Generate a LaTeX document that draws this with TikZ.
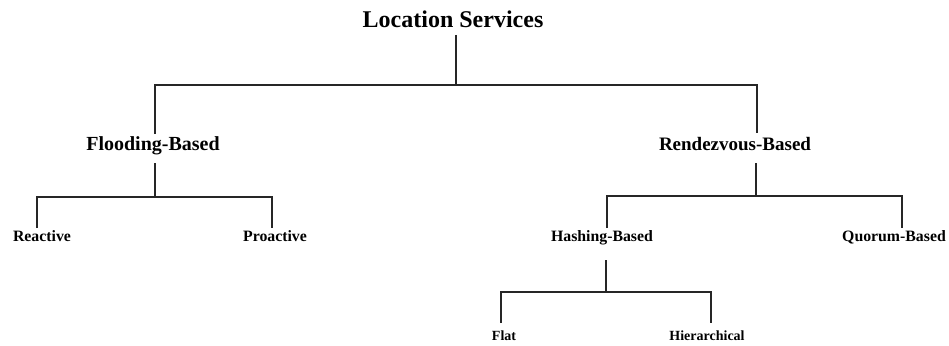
\documentclass[tikz,border=0pt]{standalone}
\usepackage{fontspec}
\setmainfont{Liberation Serif}
\begin{document}
\begin{tikzpicture}[x=1pt,y=-1pt,
  lbl/.style={anchor=base,inner sep=0pt,font=\bfseries},
  conn/.style={draw=black!85,line width=1.2pt}]
\useasboundingbox (0,0) rectangle (949,345);
% nodes
\node[lbl,font=\bfseries\fontsize{24}{28}\selectfont] (ls) at (453,28) {Location Services};
\node[lbl,font=\bfseries\fontsize{20}{24}\selectfont] (fb) at (153,150) {Flooding-Based};
\node[lbl,font=\bfseries\fontsize{19}{23}\selectfont] (rb) at (735,150) {Rendezvous-Based};
\node[lbl,font=\bfseries\fontsize{15.8}{19}\selectfont] (re) at (42,241) {Reactive};
\node[lbl,font=\bfseries\fontsize{15.8}{19}\selectfont] (pr) at (275,241) {Proactive};
\node[lbl,font=\bfseries\fontsize{15.8}{19}\selectfont] (hb) at (602,241) {Hashing-Based};
\node[lbl,font=\bfseries\fontsize{15.8}{19}\selectfont] (qb) at (894,241) {Quorum-Based};
\node[lbl,font=\bfseries\fontsize{14}{17}\selectfont] (fl) at (504,340) {Flat};
\node[lbl,font=\bfseries\fontsize{14}{17}\selectfont] (hi) at (707,340) {Hierarchical};
% connector end points
\coordinate (ls-s) at (456,35);
\coordinate (j0) at (456,85);
\coordinate (fb-n) at (155,134);
\coordinate (rb-n) at (757,133);
\coordinate (fb-s) at (155,163);
\coordinate (j1) at (155,197);
\coordinate (re-n) at (37,228);
\coordinate (pr-n) at (272,228);
\coordinate (rb-s) at (756,163);
\coordinate (j2) at (756,196);
\coordinate (hb-n) at (607,228);
\coordinate (qb-n) at (902,228);
\coordinate (hb-s) at (606,260);
\coordinate (j3) at (606,292);
\coordinate (fl-n) at (501,323);
\coordinate (hi-n) at (711,323);
% connectors
\draw[conn] (ls-s) -- (j0);
\draw[conn] (fb-n) |- (j0) -| (rb-n);
\draw[conn] (fb-s) -- (j1);
\draw[conn] (re-n) |- (j1) -| (pr-n);
\draw[conn] (rb-s) -- (j2);
\draw[conn] (hb-n) |- (j2) -| (qb-n);
\draw[conn] (hb-s) -- (j3);
\draw[conn] (fl-n) |- (j3) -| (hi-n);
\end{tikzpicture}
\end{document}
